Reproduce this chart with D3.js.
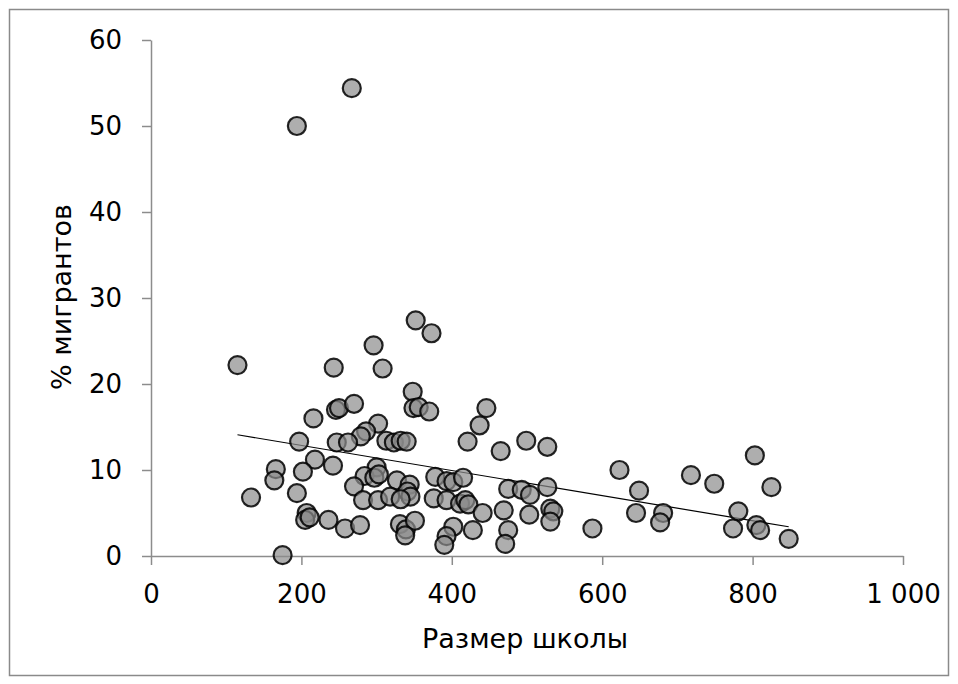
<!DOCTYPE html>
<html>
<head>
<meta charset="utf-8">
<script src="https://cdn.jsdelivr.net/npm/d3@7"></script>
<style>
  html, body { margin: 0; padding: 0; background: #fff; }
  svg text { font-family: "DejaVu Sans", Verdana, sans-serif; fill: #000; }
</style>
</head>
<body>
<svg id="chart" width="958" height="684"></svg>
<script>
// School size (x) and % migrants (y)
const schoolSize = [
  194, 267, 115, 352, 373, 296, 243, 308, 348, 349,
  356, 370, 246, 250, 270, 216, 302, 286, 279, 197,
  247, 262, 313, 323, 332, 340, 421, 446, 437, 465,
  499, 527, 218, 242, 166, 164, 202, 300, 284, 297,
  303, 270, 327, 344, 341, 345, 282, 302, 318, 332,
  378, 393, 402, 415, 376, 393, 411, 418, 422, 207,
  205, 211, 236, 258, 278, 331, 339, 351, 338, 402,
  393, 390, 428, 175, 133, 194, 441, 469, 475, 493,
  504, 527, 503, 531, 535, 531, 475, 471, 587, 623,
  649, 645, 681, 677, 718, 749, 803, 825, 781, 774,
  805, 810, 848
];
const migrantsPct = [
  50.0, 54.4, 22.2, 27.4, 25.9, 24.5, 21.9, 21.8, 19.1, 17.2,
  17.3, 16.8, 17.0, 17.2, 17.7, 16.0, 15.4, 14.5, 13.9, 13.3,
  13.2, 13.2, 13.4, 13.2, 13.4, 13.3, 13.3, 17.2, 15.2, 12.2,
  13.4, 12.7, 11.2, 10.5, 10.1, 8.8, 9.8, 10.3, 9.3, 9.1,
  9.5, 8.1, 8.8, 8.3, 7.5, 6.9, 6.5, 6.5, 6.9, 6.6,
  9.2, 8.7, 8.6, 9.1, 6.7, 6.5, 6.1, 6.5, 6.0, 5.0,
  4.2, 4.5, 4.2, 3.2, 3.6, 3.7, 3.1, 4.1, 2.4, 3.4,
  2.3, 1.3, 3.0, 0.1, 6.8, 7.3, 5.0, 5.3, 7.8, 7.7,
  7.1, 8.0, 4.8, 5.5, 5.2, 4.0, 3.0, 1.4, 3.2, 10.0,
  7.6, 5.0, 5.0, 3.9, 9.4, 8.4, 11.7, 8.0, 5.2, 3.2,
  3.6, 3.0, 2.0
];
// Linear trend line endpoints
const trendX = [115, 848];
const trendY = [14.1, 3.4];

const xTicks = [0, 200, 400, 600, 800, 1000];
const xTickLabels = ["0", "200", "400", "600", "800", "1 000"];
const yTicks = [0, 10, 20, 30, 40, 50, 60];
const yTickLabels = ["0", "10", "20", "30", "40", "50", "60"];
const xTitle = "Размер школы";
const yTitle = "% мигрантов";

const svg = d3.select("#chart");

// outer frame
svg.append("rect")
  .attr("x", 9.5).attr("y", 9.5)
  .attr("width", 939).attr("height", 666)
  .attr("fill", "#fff")
  .attr("stroke", "#8a8a8a")
  .attr("stroke-width", 1.5);

const x = d3.scaleLinear().domain([0, 1000]).range([151, 903]);
const y = d3.scaleLinear().domain([0, 60]).range([556, 40]);

const axisColor = "#8c8c8c";
const font = "'DejaVu Sans', Verdana, sans-serif";

const yAxis = svg.append("g")
  .attr("transform", `translate(${x(0)},0)`)
  .call(d3.axisLeft(y)
    .tickValues(yTicks)
    .tickFormat((d, i) => yTickLabels[i])
    .tickSizeInner(9).tickSizeOuter(0).tickPadding(20));
yAxis.select(".domain").attr("stroke", axisColor).attr("stroke-width", 1.5);
yAxis.selectAll(".tick line").attr("stroke", axisColor).attr("stroke-width", 1.5);
yAxis.selectAll(".tick text")
  .attr("font-size", 26).attr("fill", "#111")
  .style("font-family", font);

const xAxis = svg.append("g")
  .attr("transform", `translate(0,${y(0)})`)
  .call(d3.axisBottom(x)
    .tickValues(xTicks)
    .tickFormat((d, i) => xTickLabels[i])
    .tickSizeInner(9).tickSizeOuter(0).tickPadding(20));
xAxis.select(".domain").attr("stroke", axisColor).attr("stroke-width", 1.5);
xAxis.selectAll(".tick line").attr("stroke", axisColor).attr("stroke-width", 1.5);
xAxis.selectAll(".tick text")
  .attr("font-size", 26).attr("fill", "#111")
  .style("font-family", font);

// axis titles
svg.append("text")
  .attr("x", 525).attr("y", 648)
  .attr("text-anchor", "middle")
  .attr("font-size", 27)
  .attr("fill", "#111")
  .text(xTitle);

svg.append("text")
  .attr("transform", "translate(71,297) rotate(-90)")
  .attr("text-anchor", "middle")
  .attr("font-size", 27)
  .attr("fill", "#111")
  .text(yTitle);

// trend line
svg.append("line")
  .attr("x1", x(trendX[0])).attr("y1", y(trendY[0]))
  .attr("x2", x(trendX[1])).attr("y2", y(trendY[1]))
  .attr("stroke", "#000").attr("stroke-width", 1.2);

// points
const pts = schoolSize.map((v, i) => ({ sx: v, py: migrantsPct[i] }));
svg.append("g").selectAll("circle")
  .data(pts)
  .join("circle")
  .attr("cx", d => x(d.sx))
  .attr("cy", d => y(d.py))
  .attr("r", 9)
  .attr("fill", "#8c8c8c")
  .attr("fill-opacity", 0.7)
  .attr("stroke", "#000")
  .attr("stroke-opacity", 0.85)
  .attr("stroke-width", 2.2);
</script>
</body>
</html>
